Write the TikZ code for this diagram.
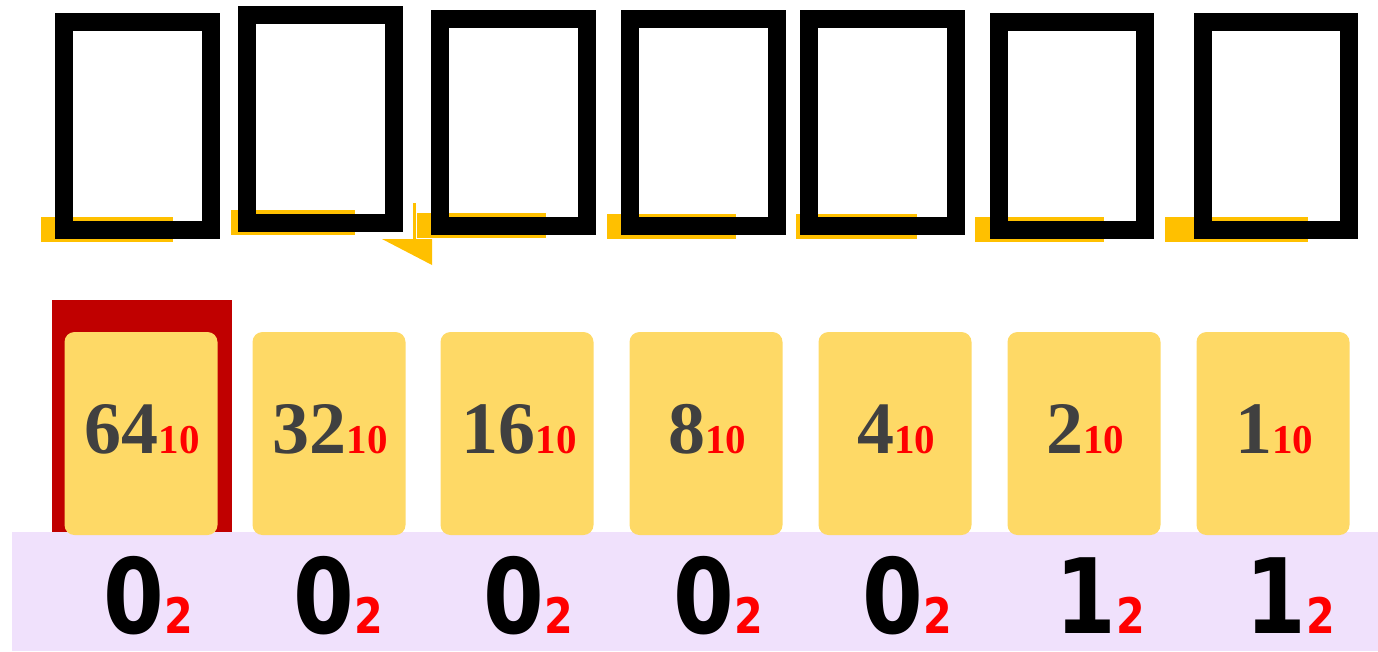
\documentclass[tikz,border=0pt]{standalone}
\usepackage{fontspec}
\newfontfamily\numserif{Liberation Serif}
\newfontfamily\bitsans[FakeStretch=0.84]{DejaVu Sans}
\definecolor{cardyellow}{RGB}{254,217,102}
\definecolor{lavender}{RGB}{240,225,252}
\definecolor{darkred}{RGB}{192,0,0}
\definecolor{uline}{RGB}{255,192,0}
\definecolor{numgray}{RGB}{64,64,64}
\tikzset{
  tofu/.style={draw=black,line width=18pt},
  ulinefill/.style={fill=uline,draw=none},
  card/.style={fill=cardyellow,draw=none,rounded corners=10pt,minimum width=153pt,minimum height=203pt,inner sep=0pt},
  topnum/.style={anchor=base,inner sep=0pt,text=numgray,font=\numserif\bfseries\fontsize{74}{80}\selectfont},
  bitnum/.style={anchor=base,inner sep=0pt,text=black,font=\bitsans\bfseries\fontsize{104}{110}\selectfont},
}
\newcommand{\decsub}[1]{{\fontsize{41}{45}\selectfont\color{red}#1}}
\newcommand{\binsub}[1]{{\fontsize{49}{52}\selectfont\color{red}#1}}
\begin{document}
\begin{tikzpicture}[x=1pt,y=-1pt]
\useasboundingbox (0,0) rectangle (1378,651);
% yellow underline marks
\fill[ulinefill] (41,217) rectangle (173,242);
\fill[ulinefill] (231,210) rectangle (355,235);
\fill[ulinefill] (417,213) rectangle (546,238);
\fill[ulinefill] (413,203) rectangle (416,240);
\fill[ulinefill] (382,239) -- (432,239) -- (432,265) -- cycle;
\fill[ulinefill] (607,214) rectangle (736,239);
\fill[ulinefill] (796,214) rectangle (917,239);
\fill[ulinefill] (975,217) rectangle (1104,242);
\fill[ulinefill] (1165,217) rectangle (1308,242);
% missing-glyph boxes
\draw[tofu] (64,22) rectangle (211,230);
\draw[tofu] (247,15) rectangle (394,223);
\draw[tofu] (440,19) rectangle (587,226);
\draw[tofu] (630,19) rectangle (777,226);
\draw[tofu] (809,19) rectangle (956,226);
\draw[tofu] (999,22) rectangle (1145,230);
\draw[tofu] (1203,22) rectangle (1349,230);
% highlight of first card
\fill[darkred] (52,300) rectangle (232,532);
% binary band
\fill[lavender] (12,532) rectangle (1378,651);
% cards
\node[card] (c1) at (141,433.5) {};
\node[card] (c2) at (329,433.5) {};
\node[card] (c3) at (517,433.5) {};
\node[card] (c4) at (706,433.5) {};
\node[card] (c5) at (895,433.5) {};
\node[card] (c6) at (1084,433.5) {};
\node[card] (c7) at (1273,433.5) {};
% decimal values
\node[topnum] (d1) at (142,453) {64\decsub{10}};
\node[topnum] (d2) at (330,453) {32\decsub{10}};
\node[topnum] (d3) at (519,453) {16\decsub{10}};
\node[topnum] (d4) at (707,453) {8\decsub{10}};
\node[topnum] (d5) at (896,453) {4\decsub{10}};
\node[topnum] (d6) at (1085,453) {2\decsub{10}};
\node[topnum] (d7) at (1274,453) {1\decsub{10}};
% binary digits
\node[bitnum] (b1) at (148,633) {0\binsub{2}};
\node[bitnum] (b2) at (338,633) {0\binsub{2}};
\node[bitnum] (b3) at (528,633) {0\binsub{2}};
\node[bitnum] (b4) at (718,633) {0\binsub{2}};
\node[bitnum] (b5) at (907,633) {0\binsub{2}};
\node[bitnum] (b6) at (1100,633) {1\binsub{2}};
\node[bitnum] (b7) at (1290,633) {1\binsub{2}};
\end{tikzpicture}
\end{document}
